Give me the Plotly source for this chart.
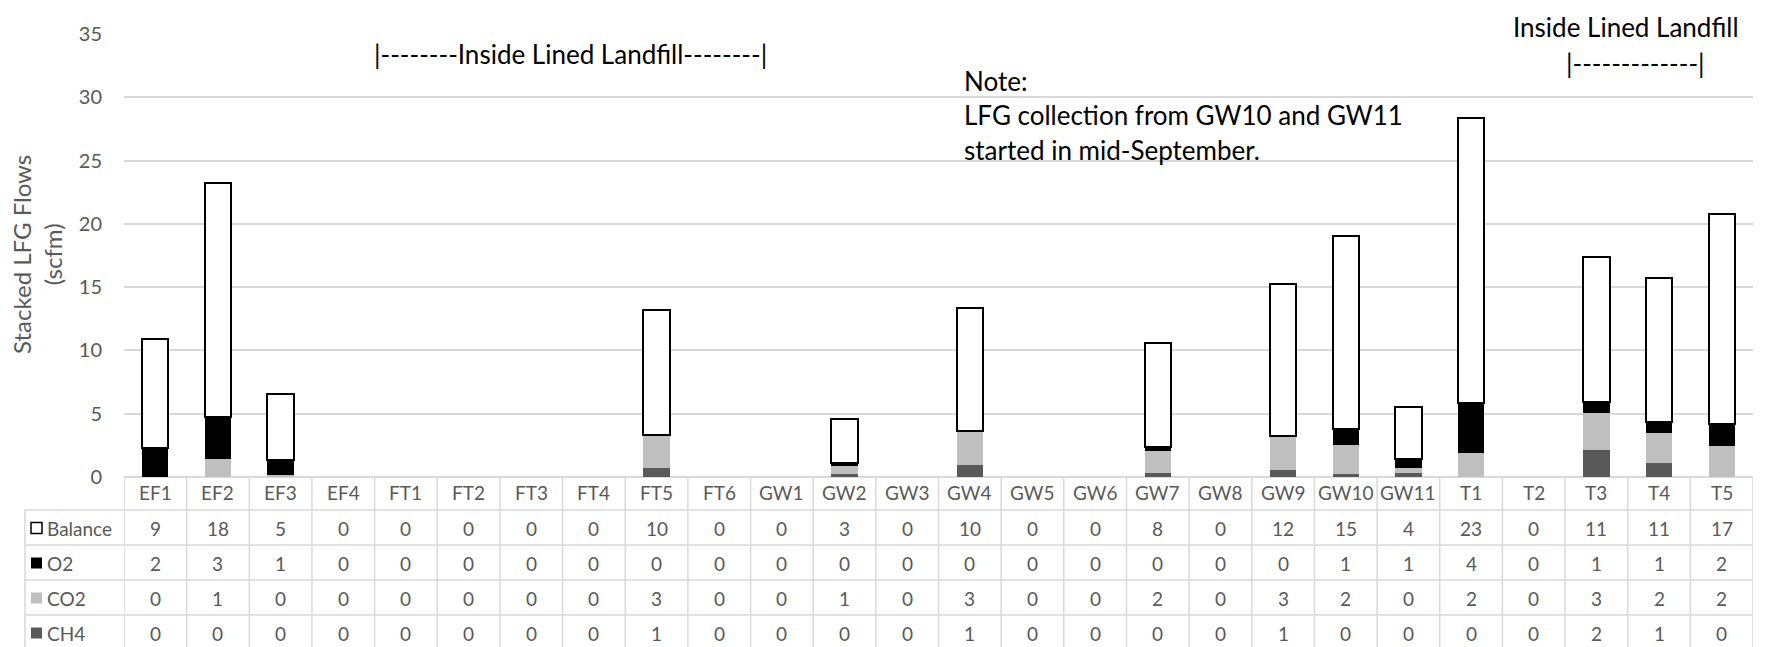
import plotly.graph_objects as go

# Monitoring points
categories = ["EF1", "EF2", "EF3", "EF4", "FT1", "FT2", "FT3", "FT4", "FT5", "FT6",
              "GW1", "GW2", "GW3", "GW4", "GW5", "GW6", "GW7", "GW8", "GW9", "GW10",
              "GW11", "T1", "T2", "T3", "T4", "T5"]

# Stacked LFG flow components (scfm)
balance = [8.67, 18.44, 5.20, 0, 0, 0, 0, 0, 9.85, 0,
           0, 3.44, 0, 9.72, 0, 0, 8.24, 0, 11.98, 15.26,
           4.10, 22.53, 0, 11.49, 11.41, 16.62]
o2 = [2.26, 3.36, 1.19, 0, 0, 0, 0, 0, 0, 0,
      0, 0.26, 0, 0, 0, 0, 0.29, 0, 0, 1.29,
      0.76, 3.94, 0, 0.86, 0.89, 1.73]
co2 = [0, 1.39, 0.12, 0, 0, 0, 0, 0, 2.63, 0,
       0, 0.63, 0, 2.70, 0, 0, 1.76, 0, 2.68, 2.32,
       0.39, 1.87, 0, 2.94, 2.36, 2.45]
ch4 = [0, 0, 0.05, 0, 0, 0, 0, 0, 0.68, 0,
       0, 0.24, 0, 0.95, 0, 0, 0.29, 0, 0.55, 0.20,
       0.29, 0, 0, 2.13, 1.08, 0]

y_ticks = [0, 5, 10, 15, 20, 25, 30, 35]

FONT = "Lato"
GREY_TXT = "#595959"
GRID = "#D9D9D9"
TABLE_SIZE = 19

W, H = 1768, 647
L, R, T, B = 124, 15, 34, 170
plot_w = W - L - R
plot_h = H - T - B


def pyy(p):
    """pixel row (from top) -> paper y"""
    return (H - B - p) / plot_h


def pxx(p):
    """pixel column (from left) -> paper x"""
    return (p - L) / plot_w


fig = go.Figure()

# bottom-to-top stacking order; only the Balance segment carries an outline,
# and empty wells get no outline so nothing is drawn on the baseline
stack = [("CH4", ch4, "#595959", 0),
         ("CO2", co2, "#BFBFBF", 0),
         ("O2", o2, "#000000", 0),
         ("Balance", balance, "#FFFFFF", 2)]
for name, vals, color, lw in stack:
    widths = [lw if v > 0 else 0 for v in vals]
    fig.add_trace(go.Bar(
        x=categories, y=vals, name=name, width=0.42,
        marker=dict(color=color, line=dict(color="#000000", width=widths)),
        hoverinfo="skip",
    ))

shapes = []
annotations = []


def label(x, y, text, size, color, xanchor="center", xref="paper", **kw):
    annotations.append(dict(x=x, xref=xref, y=y, yref="paper", text=text,
                            showarrow=False, xanchor=xanchor, yanchor="middle",
                            font=dict(family=FONT, size=size, color=color), **kw))


# data table underneath the plot
row_lines = [510, 545, 580, 615]
bottom = pyy(H + 5)
for yl in row_lines:
    shapes.append(dict(type="line", xref="paper", yref="paper",
                       x0=pxx(25), x1=1, y0=pyy(yl), y1=pyy(yl),
                       line=dict(color=GRID, width=1.5)))
for i in range(len(categories) + 1):
    shapes.append(dict(type="line", xref="x", yref="paper",
                       x0=i - 0.5, x1=i - 0.5, y0=0, y1=bottom,
                       line=dict(color=GRID, width=1.5)))
shapes.append(dict(type="line", xref="paper", yref="paper",
                   x0=pxx(25), x1=pxx(25), y0=pyy(510), y1=bottom,
                   line=dict(color=GRID, width=1.5)))

# header row with point names
for c in categories:
    label(c, pyy(493), c, TABLE_SIZE, GREY_TXT, xref="x")

rows = [("Balance", balance, "#FFFFFF", 528),
        ("O2", o2, "#000000", 563),
        ("CO2", co2, "#BFBFBF", 598),
        ("CH4", ch4, "#595959", 633)]
for name, vals, color, yc in rows:
    shapes.append(dict(type="rect", xref="paper", yref="paper",
                       x0=pxx(31), x1=pxx(42), y0=pyy(yc - 5.5), y1=pyy(yc + 5.5),
                       fillcolor=color,
                       line=dict(color="#000000" if name == "Balance" else color,
                                 width=1.5 if name == "Balance" else 0)))
    label(pxx(45), pyy(yc), name, TABLE_SIZE, GREY_TXT, xanchor="left")
    for c, v in zip(categories, vals):
        label(c, pyy(yc), f"{v:.0f}", TABLE_SIZE, GREY_TXT, xref="x")

# y axis title
label(pxx(37), pyy(255), "Stacked LFG Flows<br>(scfm)", 24, GREY_TXT,
      textangle=-90)

# notes on the chart
NOTE = 26
label(pxx(570), pyy(54), "|--------Inside Lined Landfill--------|", NOTE, "#000000")
for txt, yc in [("Note:", 81), ("LFG collection from GW10 and GW11", 115),
                ("started in mid-September.", 150)]:
    label(pxx(962), pyy(yc), txt, NOTE, "#000000", xanchor="left")
label(pxx(1626), pyy(27), "Inside Lined Landfill", NOTE, "#000000")
label(pxx(1635), pyy(63), "|-------------|", NOTE, "#000000")

fig.update_layout(
    width=W, height=H,
    margin=dict(l=L, r=R, t=T, b=B, pad=0),
    barmode="stack",
    bargap=0.58,
    showlegend=False,
    plot_bgcolor="#FFFFFF",
    paper_bgcolor="#FFFFFF",
    font=dict(family=FONT, color=GREY_TXT),
    xaxis=dict(type="category", range=[-0.5, len(categories) - 0.5],
               showticklabels=False, showgrid=False, zeroline=False,
               showline=False, ticks=""),
    yaxis=dict(range=[0, 35], tickvals=y_ticks, showgrid=True,
               gridcolor=GRID, gridwidth=1.5, zeroline=True,
               zerolinecolor=GRID, zerolinewidth=1.5, showline=False,
               ticks="", ticklabelstandoff=21,
               tickfont=dict(family=FONT, size=20, color=GREY_TXT)),
    shapes=shapes,
    annotations=annotations,
)

fig.write_html("out.html")
